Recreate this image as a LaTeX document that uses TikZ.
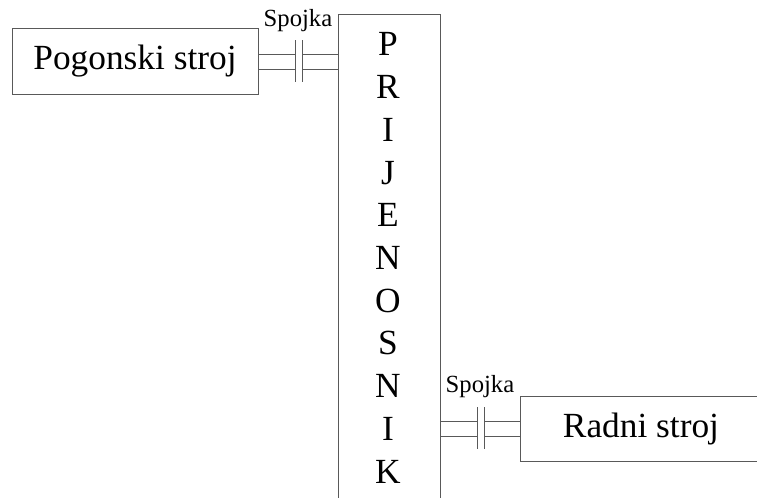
\documentclass[tikz,border=0pt]{standalone}
\usepackage{fontspec}
\setmainfont{Liberation Serif}
\begin{document}
\begin{tikzpicture}[x=0.75pt,y=-0.75pt,
  line/.style={draw=black!65,line width=0.7pt},
  box/.style={line,rectangle,inner sep=0pt},
  big/.style={font=\fontsize{26.5}{30}\selectfont},
  small/.style={font=\fontsize{18.5}{21}\selectfont,inner sep=0pt},
  letter/.style={big,inner sep=0pt}]
\useasboundingbox (0,0) rectangle (757,497);
\clip (0,0) rectangle (757,497);
% boxes
\node[box,big,minimum width=184.5pt,minimum height=49.5pt] (pog) at (135,61) {Pogonski stroj};
\node[box,minimum width=76.5pt,minimum height=390pt] (prij) at (389,274) {};
\node[box,big,minimum width=181.5pt,minimum height=48.75pt] (rad) at (641,428.5) {Radni stroj};
% letters
\foreach \l/\yy [count=\i] in {P/44,R/87,I/130,J/173,E/215,N/258,O/301,S/343,N/386,I/429,K/472}
  \node[letter] (L\i) at (388,\yy) {\l};
% top coupling
\coordinate (a1) at (295,40); \coordinate (a2) at (295,82);
\coordinate (b1) at (302,40); \coordinate (b2) at (302,82);
\draw[line] (a1) -- (a2);
\draw[line] (b1) -- (b2);
\draw[line] (pog.east |- 0,54) -- (a1 |- 0,54);
\draw[line] (pog.east |- 0,69) -- (a1 |- 0,69);
\draw[line] (b1 |- 0,54) -- (prij.west |- 0,54);
\draw[line] (b1 |- 0,69) -- (prij.west |- 0,69);
\node[small] (s1) at (298,21) {Spojka};
% bottom coupling
\coordinate (c1) at (477,407); \coordinate (c2) at (477,449);
\coordinate (d1) at (484,407); \coordinate (d2) at (484,449);
\draw[line] (c1) -- (c2);
\draw[line] (d1) -- (d2);
\draw[line] (prij.east |- 0,421) -- (c1 |- 0,421);
\draw[line] (prij.east |- 0,436) -- (c1 |- 0,436);
\draw[line] (d1 |- 0,421) -- (rad.west |- 0,421);
\draw[line] (d1 |- 0,436) -- (rad.west |- 0,436);
\node[small] (s2) at (480,387) {Spojka};
\end{tikzpicture}
\end{document}
